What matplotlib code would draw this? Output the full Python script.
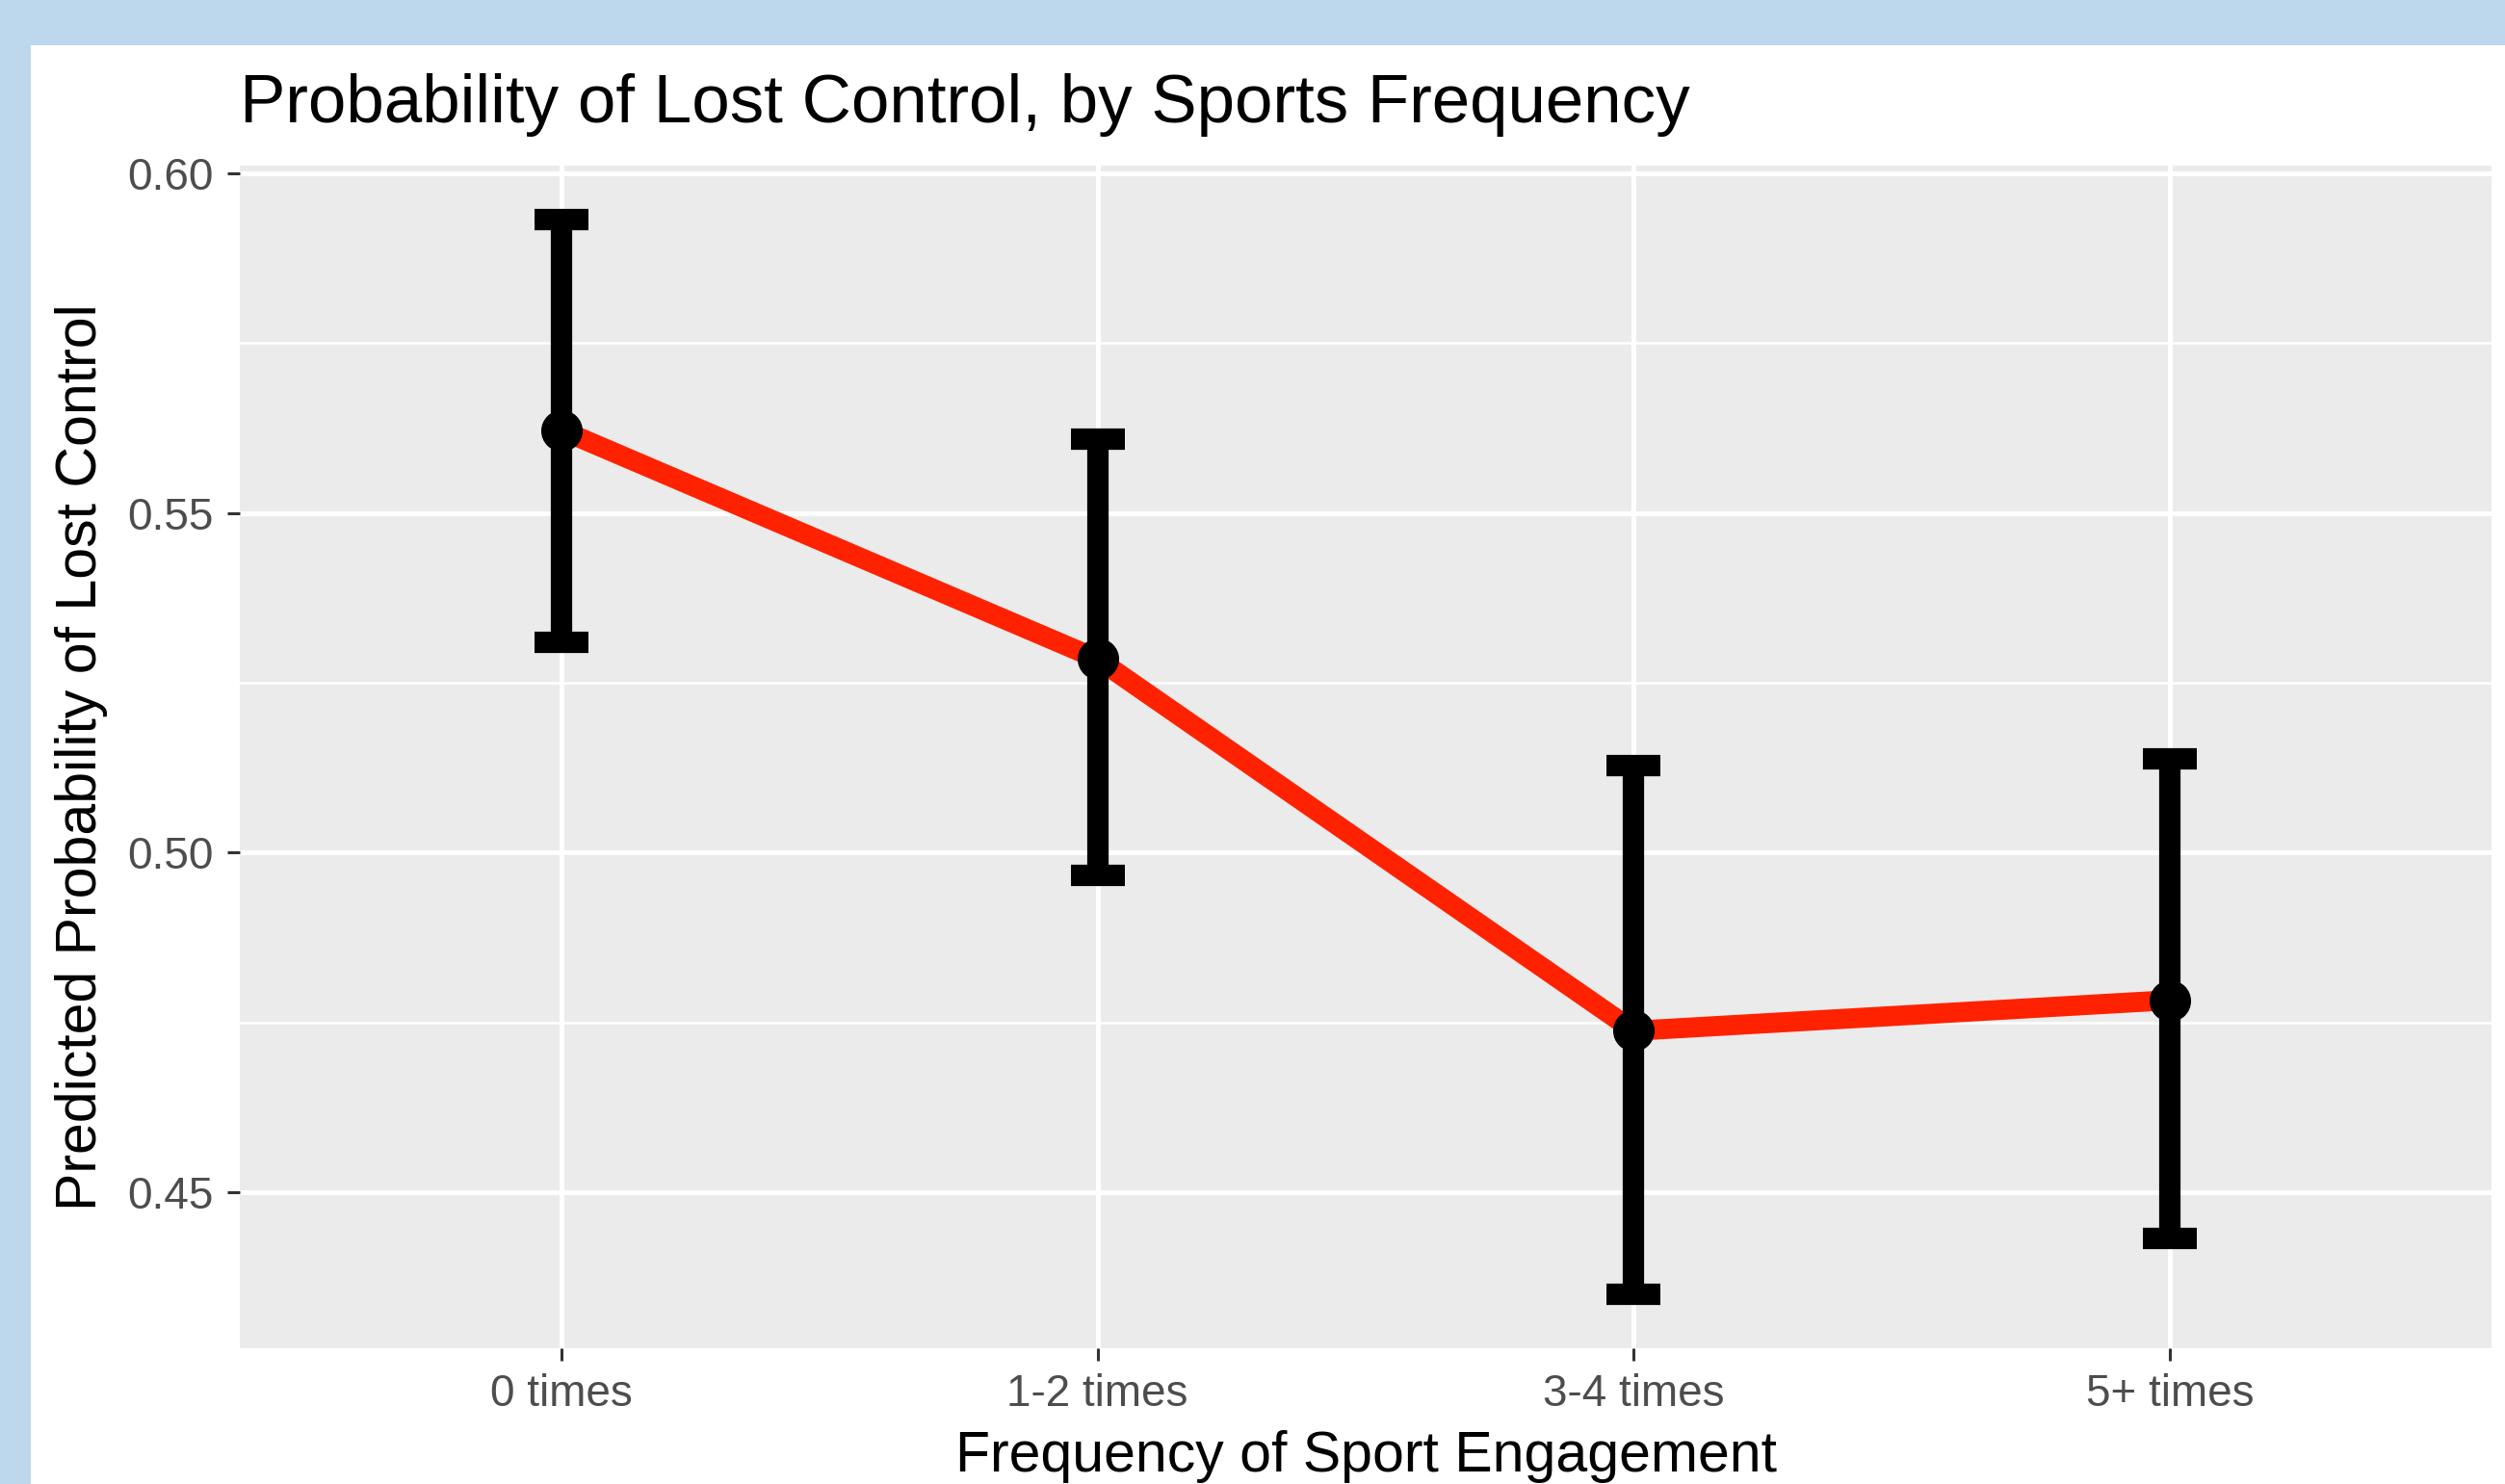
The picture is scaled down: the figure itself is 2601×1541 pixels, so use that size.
import matplotlib as mpl
mpl.use('Agg')
import matplotlib.pyplot as plt
from matplotlib.patches import Rectangle
from matplotlib.ticker import MultipleLocator, FormatStrFormatter

# values
categories = ['0 times', '1-2 times', '3-4 times', '5+ times']
prob = [0.5622, 0.5285, 0.4738, 0.4783]
lower = [0.5309, 0.4966, 0.4350, 0.4432]
upper = [0.5932, 0.5608, 0.5128, 0.5138]

plt.rcParams['font.family'] = ['Liberation Sans', 'DejaVu Sans']

W, H = 2601, 1541
fig = plt.figure(figsize=(W / 100, H / 100), dpi=100)
fig.patch.set_facecolor('#BDD7EC')
# white sheet the chart sits on
fig.patches.append(Rectangle((32 / W, 0), 1, 1 - 47 / H, transform=fig.transFigure,
                             facecolor='white', edgecolor='none', zorder=-5))

ax = fig.add_axes([249 / W, 1 - 1400 / H, (2587 - 249) / W, (1400 - 172) / H])
ax.set_facecolor('#EBEBEB')
for s in ax.spines.values():
    s.set_visible(False)

x = list(range(len(categories)))
err_lo = [p - l for p, l in zip(prob, lower)]
err_hi = [u - p for p, u in zip(prob, upper)]

ax.plot(x, prob, color='#FF2200', lw=15, solid_capstyle='butt', zorder=3)
ax.errorbar(x, prob, yerr=[err_lo, err_hi], fmt='none', ecolor='black',
            elinewidth=16, capsize=20, capthick=16, zorder=4)
ax.plot(x, prob, 'o', color='black', ms=30, zorder=5)

# ggplot style limits (5% on continuous, 0.6 on discrete)
lo, hi = min(lower), max(upper)
pad = 0.05 * (hi - lo)
ax.set_ylim(lo - pad, hi + pad)
ax.set_xlim(-0.6, len(categories) - 0.4)

ax.set_xticks(x)
ax.set_xticklabels(categories)
ax.yaxis.set_major_locator(MultipleLocator(0.05))
ax.yaxis.set_minor_locator(MultipleLocator(0.025))
ax.yaxis.set_major_formatter(FormatStrFormatter('%.2f'))

ax.grid(which='major', color='white', lw=3.6)
ax.grid(which='minor', axis='y', color='white', lw=1.8)
ax.set_axisbelow(True)

ax.tick_params(which='major', length=9.5, width=2.2, color='#333333',
               labelcolor='#4D4D4D', labelsize=33)
ax.tick_params(axis='x', pad=9.5)
ax.tick_params(axis='y', pad=10)
ax.tick_params(which='minor', length=0)

fig.text(249 / W, 1 - 127 / H, 'Probability of Lost Control, by Sports Frequency',
         fontsize=51, ha='left', va='baseline', color='black')
fig.text(1418 / W, 1 - 1528 / H, 'Frequency of Sport Engagement',
         fontsize=42.5, ha='center', va='baseline', color='black')
fig.text(85 / W, 1 - 786 / H, 'Predicted Probability of Lost Control',
         fontsize=42.5, ha='center', va='center', rotation=90, color='black')

plt.savefig('out.png', dpi=100, facecolor=fig.get_facecolor())
